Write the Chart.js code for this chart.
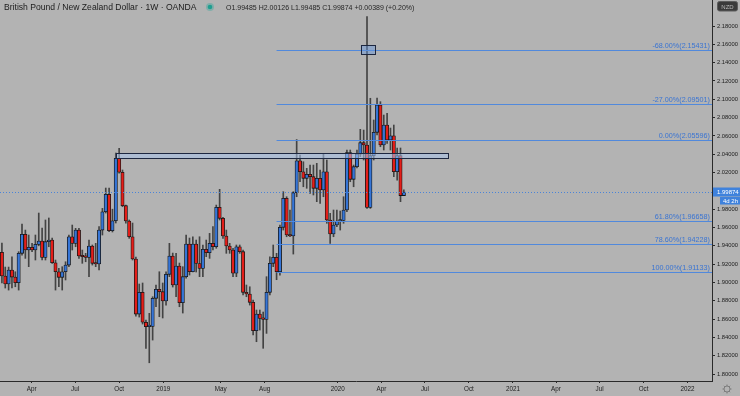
<!DOCTYPE html>
<html>
<head>
<meta charset="utf-8">
<script src="https://cdn.jsdelivr.net/npm/chart.js@4.4.1/dist/chart.umd.min.js"></script>
<style>
    html, body { margin: 0; padding: 0; background: #b3b3b3; }
    #wrap { width: 740px; height: 396px; }
</style>
</head>
<body>
<div id="wrap"><canvas id="chart" width="740" height="396"></canvas></div>
<script>
// weekly candles, first one opens on this monday
const candleStart = '2018-01-29'

const opens = [
    1.9329, 1.9070, 1.8983, 1.9136, 1.9059, 1.8997, 1.9318, 1.9526, 1.9354, 1.9384,
    1.9354, 1.9416, 1.9452, 1.9274, 1.9445, 1.9463, 1.9215, 1.9117, 1.9056, 1.9117,
    1.9190, 1.9499, 1.9427, 1.9572, 1.9289, 1.9281, 1.9274, 1.9398, 1.9209, 1.9201,
    1.9572, 1.9772, 1.9962, 1.9565, 1.9674, 2.0355, 2.0203, 1.9838, 1.9671, 1.9499,
    1.9256, 1.8655, 1.8892, 1.8565, 1.8517, 1.8520, 1.8827, 1.8925, 1.8899, 1.8797,
    1.9089, 1.9289, 1.8972, 1.9179, 1.8779, 1.9063, 1.9420, 1.9117, 1.9420, 1.9207,
    1.9154, 1.9362, 1.9325, 1.9427, 1.9390, 1.9820, 1.9700, 1.9507, 1.9398, 1.9354,
    1.9100, 1.9390, 1.9336, 1.8892, 1.8874, 1.8783, 1.8473, 1.8655, 1.8608, 1.8597,
    1.8892, 1.9209, 1.9274, 1.9117, 1.9602, 1.9919, 1.9518, 1.9507, 1.9980, 2.0329,
    2.0209, 2.0137, 2.0181, 2.0155, 2.0028, 2.0137, 2.0009, 2.0209, 1.9682, 1.9529,
    1.9627, 1.9671, 1.9676, 1.9791, 2.0417, 2.0126, 2.0264, 2.0402, 2.0526, 2.0501,
    1.9820, 2.0384, 2.0639, 2.0938, 2.0501, 2.0719, 2.0555, 2.0602, 2.0209, 2.0384,
    1.99485
]
const highs = [
    1.9431, 1.9168, 1.9168, 1.9281, 1.9117, 1.9336, 1.9638, 1.9572, 1.9518, 1.9427,
    1.9518, 1.9758, 1.9594, 1.9682, 1.9704, 1.9485, 1.9245, 1.9154, 1.9172, 1.9226,
    1.9518, 1.9627, 1.9591, 1.9591, 1.9354, 1.9318, 1.9463, 1.9409, 1.9427, 1.9609,
    1.9809, 2.0031, 2.0031, 1.9800, 2.0413, 2.0465, 2.0228, 1.9845, 1.9682, 1.9649,
    1.9278, 1.8983, 1.8994, 1.8590, 1.8663, 1.8844, 1.8972, 1.9117, 1.8994, 1.9117,
    1.9427, 1.9321, 1.9318, 1.9212, 1.9172, 1.9518, 1.9485, 1.9499, 1.9463, 1.9499,
    1.9409, 1.9463, 1.9536, 1.9609, 1.9845, 2.0017, 1.9711, 1.9572, 1.9427, 1.9373,
    1.9409, 1.9409, 1.9354, 1.8972, 1.8953, 1.8808, 1.8699, 1.8699, 1.8677, 1.9063,
    1.9281, 1.9409, 1.9318, 1.9627, 1.9991, 1.9936, 1.9791, 1.9991, 2.0560, 2.0391,
    2.0318, 2.0246, 2.0282, 2.0282, 2.0301, 2.0228, 2.0410, 2.0337, 1.9755, 1.9791,
    1.9791, 1.9780, 1.9936, 2.0446, 2.0446, 2.0282, 2.0446, 2.0672, 2.0664, 2.1902,
    2.1011, 2.0774, 2.1014, 2.0974, 2.0828, 2.0847, 2.0686, 2.0719, 2.0468, 2.0468,
    2.00126
]
const lows = [
    1.8994, 1.8939, 1.8917, 1.8939, 1.8953, 1.8917, 1.9299, 1.9263, 1.9172, 1.9336,
    1.9245, 1.9400, 1.9245, 1.9245, 1.9390, 1.9209, 1.8917, 1.8953, 1.8917, 1.9027,
    1.9172, 1.9354, 1.9390, 1.9263, 1.9209, 1.9226, 1.9063, 1.9190, 1.9172, 1.9136,
    1.9518, 1.9758, 1.9554, 1.9551, 1.9649, 2.0192, 1.9827, 1.9646, 1.9482, 1.9245,
    1.8633, 1.8622, 1.8546, 1.8281, 1.8123, 1.8371, 1.8735, 1.8626, 1.8612, 1.8753,
    1.9063, 1.8950, 1.8844, 1.8735, 1.8666, 1.9048, 1.9081, 1.9114, 1.9114, 1.9063,
    1.9063, 1.9281, 1.9263, 1.9354, 1.9373, 1.9682, 1.9482, 1.9318, 1.9318, 1.9063,
    1.9063, 1.9318, 1.8863, 1.8844, 1.8753, 1.8426, 1.8353, 1.8480, 1.8281, 1.8444,
    1.8863, 1.9172, 1.9030, 1.9080, 1.9572, 1.9499, 1.9499, 1.9310, 1.9936, 2.0100,
    2.0045, 2.0028, 1.9973, 1.9955, 1.9882, 1.9864, 1.9936, 1.9646, 1.9427, 1.9499,
    1.9609, 1.9572, 1.9646, 1.9772, 2.0100, 2.0045, 2.0250, 2.0373, 2.0337, 1.9809,
    1.9809, 2.0337, 2.0610, 2.0482, 2.0446, 2.0519, 2.0446, 2.0155, 2.0118, 1.9882,
    1.99485
]
const closes = [
    1.9070, 1.8983, 1.9136, 1.9059, 1.8997, 1.9318, 1.9526, 1.9354, 1.9384, 1.9354,
    1.9416, 1.9452, 1.9274, 1.9445, 1.9463, 1.9215, 1.9117, 1.9056, 1.9117, 1.9190,
    1.9499, 1.9427, 1.9572, 1.9289, 1.9281, 1.9274, 1.9398, 1.9209, 1.9201, 1.9572,
    1.9772, 1.9962, 1.9565, 1.9674, 2.0355, 2.0203, 1.9838, 1.9671, 1.9499, 1.9256,
    1.8655, 1.8892, 1.8565, 1.8517, 1.8520, 1.8827, 1.8925, 1.8899, 1.8797, 1.9089,
    1.9289, 1.8972, 1.9179, 1.8779, 1.9063, 1.9420, 1.9117, 1.9420, 1.9207, 1.9154,
    1.9362, 1.9325, 1.9427, 1.9390, 1.9820, 1.9700, 1.9507, 1.9398, 1.9354, 1.9100,
    1.9390, 1.9336, 1.8892, 1.8874, 1.8783, 1.8473, 1.8655, 1.8608, 1.8597, 1.8892,
    1.9209, 1.9274, 1.9117, 1.9602, 1.9919, 1.9518, 1.9507, 1.9980, 2.0329, 2.0209,
    2.0137, 2.0181, 2.0155, 2.0028, 2.0137, 2.0009, 2.0209, 1.9682, 1.9529, 1.9627,
    1.9671, 1.9676, 1.9791, 2.0417, 2.0126, 2.0264, 2.0402, 2.0526, 2.0501, 1.9820,
    2.0384, 2.0639, 2.0938, 2.0501, 2.0719, 2.0555, 2.0602, 2.0209, 2.0384, 1.99485,
    1.99874
]

const priceTicks = [1.80, 1.82, 1.84, 1.86, 1.88, 1.90, 1.92, 1.94, 1.96, 1.98,
    2.00, 2.02, 2.04, 2.06, 2.08, 2.10, 2.12, 2.14, 2.16, 2.18]

const timeTickLabels = ['Apr', 'Jul', 'Oct', '2019', 'May', 'Aug', '2020', 'Apr', 'Jul', 'Oct', '2021', 'Apr', 'Jul', 'Oct', '2022']
const timeTickDates = ['2018-04-01', '2018-07-01', '2018-10-01', '2019-01-01', '2019-05-01', '2019-08-01', '2020-01-01',
    '2020-04-01', '2020-07-01', '2020-10-01', '2021-01-01', '2021-04-01', '2021-07-01', '2021-10-01', '2022-01-01']

const fibValues = [2.15431, 2.09501, 2.05596, 1.96658, 1.94228, 1.91133]
const fibLabels = ['-68.00%(2.15431)', '-27.00%(2.09501)', '0.00%(2.05596)', '61.80%(1.96658)', '78.60%(1.94228)', '100.00%(1.91133)']
const fibStartCandle = 82

const zoneStartCandle = 34
const zoneEndDate = '2020-08-18'
const zonePrices = [2.0413, 2.0359]

const boxDates = ['2020-02-18', '2020-03-18']
const boxPrices = [2.1593, 2.1494]

const lastPrice = 1.99874
const header = 'British Pound / New Zealand Dollar \u00b7 1W \u00b7 OANDA'
const ohlcText = 'O1.99485 H2.00126 L1.99485 C1.99874 +0.00389 (+0.20%)'

const font = '"Liberation Sans", Arial, sans-serif'
const upColor = '#3675d6'
const downColor = '#e41e19'
const fibLine = '#5189dc'
const fibText = '#3a74d2'

// days from 2020-01-01, x axis unit
const dayOf = str => {
    const [y, m, d] = str.split('-').map(Number)
    return (Date.UTC(y, m - 1, d) - Date.UTC(2020, 0, 1)) / 86400000
}
const candleX = opens.map((o, i) => dayOf(candleStart) + 7 * i)

const overlay = {
    id: 'overlay',
    afterDatasetsDraw(chart) {
        const { ctx, chartArea, scales: { x, y } } = chart
        ctx.save()

        // last price line
        ctx.strokeStyle = '#4a84d8'
        ctx.lineWidth = 1
        ctx.setLineDash([1, 2])
        const py = Math.round(y.getPixelForValue(lastPrice)) + 0.5
        ctx.beginPath()
        ctx.moveTo(chartArea.left, py)
        ctx.lineTo(chartArea.right, py)
        ctx.stroke()
        ctx.setLineDash([])

        // fib levels
        const fx = x.getPixelForValue(candleX[fibStartCandle])
        ctx.font = '7.2px ' + font
        ctx.textAlign = 'right'
        ctx.textBaseline = 'alphabetic'
        fibValues.forEach((v, i) => {
            const ly = Math.round(y.getPixelForValue(v)) + 0.5
            ctx.strokeStyle = fibLine
            ctx.beginPath()
            ctx.moveTo(fx, ly)
            ctx.lineTo(chartArea.right, ly)
            ctx.stroke()
            ctx.fillStyle = fibText
            ctx.fillText(fibLabels[i], chartArea.right - 2, ly - 2.5)
        })

        // resistance zone
        const zx1 = x.getPixelForValue(candleX[zoneStartCandle])
        const zx2 = x.getPixelForValue(dayOf(zoneEndDate))
        const zy1 = y.getPixelForValue(zonePrices[0])
        const zy2 = y.getPixelForValue(zonePrices[1])
        ctx.fillStyle = 'rgba(170, 196, 236, 0.55)'
        ctx.fillRect(zx1, zy1, zx2 - zx1, zy2 - zy1)
        ctx.strokeStyle = '#1d2740'
        ctx.lineWidth = 1
        ctx.strokeRect(Math.round(zx1) + 0.5, Math.round(zy1) + 0.5, Math.round(zx2 - zx1), Math.round(zy2 - zy1))

        // small box on the spike
        const bx1 = x.getPixelForValue(dayOf(boxDates[0]))
        const bx2 = x.getPixelForValue(dayOf(boxDates[1]))
        const by1 = y.getPixelForValue(boxPrices[0])
        const by2 = y.getPixelForValue(boxPrices[1])
        ctx.fillStyle = 'rgba(100, 150, 225, 0.45)'
        ctx.fillRect(bx1, by1, bx2 - bx1, by2 - by1)
        ctx.strokeStyle = '#1d2740'
        ctx.strokeRect(Math.round(bx1) + 0.5, Math.round(by1) + 0.5, Math.round(bx2 - bx1), Math.round(by2 - by1))

        ctx.restore()
    },
    afterDraw(chart) {
        const { ctx, chartArea, scales: { y } } = chart
        ctx.save()

        // header
        ctx.textAlign = 'left'
        ctx.textBaseline = 'alphabetic'
        ctx.fillStyle = '#1c1c1c'
        ctx.font = '8.6px ' + font
        ctx.fillText(header, 4, 10)
        ctx.fillStyle = 'rgba(38, 166, 154, 0.35)'
        ctx.beginPath()
        ctx.arc(210, 7, 4, 0, Math.PI * 2)
        ctx.fill()
        ctx.fillStyle = '#1f9e8f'
        ctx.beginPath()
        ctx.arc(210, 7, 2.3, 0, Math.PI * 2)
        ctx.fill()
        ctx.fillStyle = '#262626'
        ctx.font = '7px ' + font
        ctx.fillText(ohlcText, 226, 10)

        // currency badge
        const ax = chartArea.right
        ctx.fillStyle = '#3a3a3a'
        ctx.strokeStyle = '#5c5c5c'
        ctx.beginPath()
        ctx.roundRect(ax + 5.5, 1.5, 20, 9.5, 2)
        ctx.fill()
        ctx.stroke()
        ctx.fillStyle = '#b9b9b9'
        ctx.font = '6px ' + font
        ctx.textAlign = 'center'
        ctx.fillText('NZD', ax + 15.5, 8.8)

        // last price tag
        const py = y.getPixelForValue(lastPrice)
        ctx.fillStyle = '#3f82dc'
        ctx.fillRect(ax + 1, py - 4.5, 27, 9)
        ctx.fillRect(ax + 8, py + 5, 20, 7.5)
        ctx.fillStyle = '#ffffff'
        ctx.font = '6px ' + font
        ctx.textAlign = 'left'
        ctx.fillText(lastPrice.toFixed(5), ax + 5, py + 2.2)
        ctx.fillText('4d 2h', ax + 11, py + 11)

        // settings gear
        ctx.strokeStyle = '#7d7d7d'
        ctx.lineWidth = 1
        const gx = ax + 15, gy = 389
        ctx.beginPath()
        ctx.arc(gx, gy, 3, 0, Math.PI * 2)
        ctx.stroke()
        for (let k = 0; k < 8; k++) {
            const a = k * Math.PI / 4
            ctx.beginPath()
            ctx.moveTo(gx + Math.cos(a) * 3, gy + Math.sin(a) * 3)
            ctx.lineTo(gx + Math.cos(a) * 4.5, gy + Math.sin(a) * 4.5)
            ctx.stroke()
        }

        ctx.restore()
    }
}

const chart = new Chart(document.querySelector('#chart'), {
    type: 'bar',
    data: {
        datasets: [
            {
                label: 'body',
                data: opens.map((o, i) => ({ x: candleX[i], y: [o, closes[i]] })),
                backgroundColor: c => closes[c.dataIndex] >= opens[c.dataIndex] ? upColor : downColor,
                borderColor: '#141414',
                borderWidth: 0.8,
                borderSkipped: false,
                barThickness: 3.3,
                minBarLength: 1.5,
                grouped: false,
                order: 1
            },
            {
                label: 'wick',
                data: lows.map((l, i) => ({ x: candleX[i], y: [l, highs[i]] })),
                backgroundColor: '#434343',
                borderWidth: 0,
                barThickness: 1,
                grouped: false,
                order: 2
            }
        ]
    },
    options: {
        responsive: false,
        animation: false,
        events: [],
        layout: { padding: 0 },
        plugins: { legend: { display: false }, tooltip: { enabled: false } },
        scales: {
            x: {
                type: 'linear',
                min: -706,
                max: 782,
                offset: false,
                afterBuildTicks: s => { s.ticks = timeTickDates.map(d => ({ value: dayOf(d) })) },
                afterFit: s => { s.height = 15; s.paddingLeft = 0; s.paddingRight = 0 },
                ticks: {
                    autoSkip: false,
                    maxRotation: 0,
                    padding: 2,
                    color: '#1c1c1c',
                    font: { family: font, size: 6.3 },
                    callback: (v, i) => timeTickLabels[i]
                },
                grid: { drawOnChartArea: false, offset: false, tickLength: 2, color: '#2a2a2a' },
                border: { color: '#2a2a2a' }
            },
            y: {
                type: 'linear',
                position: 'right',
                min: 1.7924,
                max: 2.2084,
                afterBuildTicks: s => { s.ticks = priceTicks.map(v => ({ value: v })) },
                afterFit: s => { s.width = 28; s.paddingTop = 0; s.paddingBottom = 0 },
                ticks: {
                    autoSkip: false,
                    padding: 2,
                    color: '#1c1c1c',
                    font: { family: font, size: 5.8 },
                    callback: v => v.toFixed(5)
                },
                grid: { drawOnChartArea: false, tickLength: 3, color: '#2a2a2a' },
                border: { color: '#2a2a2a' }
            }
        }
    },
    plugins: [overlay]
})
</script>
</body>
</html>
